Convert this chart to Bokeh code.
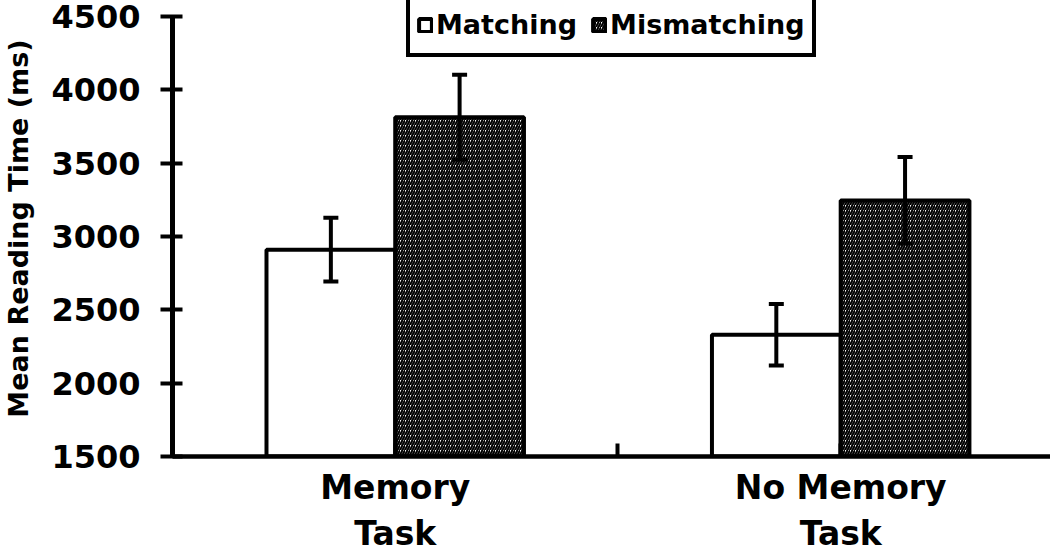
from bokeh.plotting import figure
from bokeh.models import (ColumnDataSource, Range1d, FixedTicker, LinearAxis,
                          Whisker, TeeHead, Legend, LegendItem)
from bokeh.embed import file_html
from bokeh.resources import INLINE

# ---- data ----
categories = ["Memory\nTask", "No Memory\nTask"]
series = ["Matching", "Mismatching"]
matching = [2910, 2330]
mismatching = [3813, 3246]
matching_err = [217, 210]
mismatching_err = [290, 295]
y_ticks = [1500, 2000, 2500, 3000, 3500, 4000, 4500]

centers = [0.5, 1.5]
divider = 1.0
bw = 0.289
FONT = "DejaVu Sans"

# frame spans from the canvas top; the y axis itself is bounded to 1500..4500
p = figure(width=1050, height=556,
           x_range=Range1d(0, 1.971), y_range=Range1d(1500, 4608.6),
           output_backend="svg", toolbar_location=None,
           x_axis_location=None,
           min_border_left=169, min_border_top=0, min_border_right=0,
           min_border_bottom=98)
p.grid.visible = False
p.outline_line_color = None
p.background_fill_color = "white"
p.border_fill_color = "white"

# y axis
ya = p.yaxis[0]
ya.bounds = (y_ticks[0], y_ticks[-1])
ya.ticker = FixedTicker(ticks=y_ticks)
ya.minor_tick_line_color = None
ya.axis_line_width = 5
ya.axis_line_color = "black"
ya.major_tick_line_width = 4
ya.major_tick_line_color = "black"
ya.major_tick_in = 10
ya.major_tick_out = 12
ya.major_label_standoff = 20
ya.major_label_text_font = FONT
ya.major_label_text_font_style = "bold"
ya.major_label_text_font_size = "32px"
ya.major_label_text_color = "black"
ya.axis_label = "Mean Reading Time (ms)"
ya.axis_label_text_font = FONT
ya.axis_label_text_font_style = "bold"
ya.axis_label_text_font_size = "27px"
ya.axis_label_text_color = "black"
ya.axis_label_standoff = 14

# x axis: line, divider tick (ticks at the centres sit on the bars' shared edges)
labels = {centers[0]: categories[0], divider: "", centers[1]: categories[1]}
xa = LinearAxis(ticker=FixedTicker(ticks=[centers[0], divider, centers[1]]),
                major_label_overrides=labels,
                axis_line_width=4.5, axis_line_color="black",
                major_tick_line_width=4, major_tick_line_color="black",
                major_tick_in=13, major_tick_out=0,
                minor_tick_line_color=None,
                major_label_standoff=11,
                major_label_text_font=FONT, major_label_text_font_style="bold",
                major_label_text_font_size="33px", major_label_text_color="black",
                major_label_text_line_height=1.2)
p.add_layout(xa, "below")

# bars
src_m = ColumnDataSource(dict(x=[c - bw / 2 for c in centers], top=matching,
                              upper=[m + e for m, e in zip(matching, matching_err)],
                              lower=[m - e for m, e in zip(matching, matching_err)]))
src_mm = ColumnDataSource(dict(x=[c + bw / 2 for c in centers], top=mismatching,
                               upper=[m + e for m, e in zip(mismatching, mismatching_err)],
                               lower=[m - e for m, e in zip(mismatching, mismatching_err)]))

r1 = p.vbar(x="x", top="top", bottom=1500, width=bw, source=src_m,
            fill_color="white", line_color="black", line_width=4)
r2 = p.vbar(x="x", top="top", bottom=1500, width=bw, source=src_mm,
            fill_color="white", line_color="black", line_width=4,
            hatch_pattern="/", hatch_color="black", hatch_scale=5, hatch_weight=2)

for src in (src_m, src_mm):
    w = Whisker(base="x", upper="upper", lower="lower", source=src,
                line_width=4, line_color="black", level="overlay",
                upper_head=TeeHead(size=15, line_width=4, line_color="black"),
                lower_head=TeeHead(size=15, line_width=4, line_color="black"))
    p.add_layout(w)

legend = Legend(items=[LegendItem(label=series[0], renderers=[r1]),
                       LegendItem(label=series[1], renderers=[r2])],
                orientation="horizontal", location=(234, 399),
                label_text_font=FONT, label_text_font_style="bold",
                label_text_font_size="27px", label_text_color="black",
                glyph_width=16, glyph_height=16, label_standoff=3,
                label_height=43,
                spacing=14, padding=7, margin=0,
                border_line_color="black", border_line_width=4,
                border_line_alpha=1,
                background_fill_color="white", background_fill_alpha=1)
p.add_layout(legend, "center")

open("out.html", "w").write(file_html(p, INLINE))
